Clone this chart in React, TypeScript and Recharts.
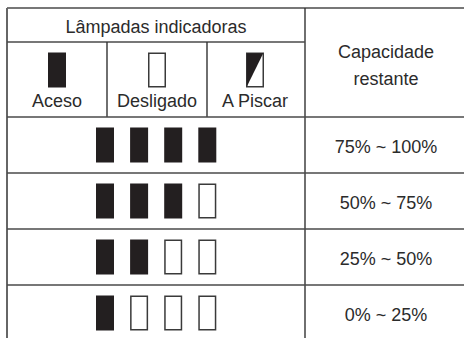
import React from 'react'
import { ScatterChart, Scatter, XAxis, YAxis, ReferenceLine } from 'recharts'

// table texts
const TITLE = 'Lâmpadas indicadoras'
const LAMP_STATES = ['Aceso', 'Desligado', 'A Piscar']
const STATE_KINDS = ['on', 'off', 'blink']
const CAPACITY_HEADER = ['Capacidade', 'restante']
const CAPACITY_RANGES = ['75% ~ 100%', '50% ~ 75%', '25% ~ 50%', '0% ~ 25%']
// lamps lit for each capacity range
const LIT_LAMPS = [4, 3, 2, 1]
const LAMPS_PER_ROW = 4

const W = 465
const H = 338
const MARGIN = { top: 8, right: 1, bottom: 0, left: 7 }

// layout in picture pixels -> chart units (x: lamp slots, y: table rows)
const SLOT = 34.1
const LAMP0 = 105
const ROW = 56
const ROW0 = 117
const ux = (px: number) => (px - LAMP0) / SLOT
const uy = (px: number) => (px - ROW0) / ROW

const X_DOMAIN = [ux(MARGIN.left), ux(W - MARGIN.right)]
const Y_DOMAIN = [uy(MARGIN.top), uy(H - MARGIN.bottom)]

const INK = '#231f20'
const TEXT = '#2b2b2b'
const LINE = '#4a4a4a'
const LAMP_W = 18
const LAMP_H = 35

const STATE_COL_X = [57, 157, 255].map(ux)
const CAP_X = ux(386)

const lampPoints = CAPACITY_RANGES.flatMap((_, row) =>
  Array.from({ length: LAMPS_PER_ROW }, (_, i) => ({
    x: i,
    y: row + 0.5,
    kind: i < LIT_LAMPS[row] ? 'on' : 'off',
  }))
)

const iconPoints = LAMP_STATES.map((_, i) => ({ x: STATE_COL_X[i], y: uy(70), kind: STATE_KINDS[i] }))

const textPoints = [
  { x: ux(156), y: uy(25), dy: 8, text: TITLE },
  ...LAMP_STATES.map((s, i) => ({ x: STATE_COL_X[i], y: uy(106.5), dy: 0, text: s })),
  { x: CAP_X, y: uy(58.3), dy: 0, text: CAPACITY_HEADER[0] },
  { x: CAP_X, y: uy(85), dy: 0, text: CAPACITY_HEADER[1] },
  ...CAPACITY_RANGES.map((t, row) => ({ x: CAP_X, y: row + 0.5, dy: 7.5, text: t })),
]

const Lamp = (props: any) => {
  const { cx = 0, cy = 0, payload } = props
  const x = cx - LAMP_W / 2
  const y = cy - LAMP_H / 2
  if (payload?.kind === 'on') return <rect x={x} y={y} width={LAMP_W} height={LAMP_H} fill={INK} />
  const outline = (
    <rect x={x + 0.75} y={y + 0.75} width={LAMP_W - 1.5} height={LAMP_H - 1.5} fill="#fff" stroke="#3a3a3a" strokeWidth={1.5} />
  )
  if (payload?.kind === 'off') return outline
  return (
    <g>
      {outline}
      <polygon
        points={`${x + 0.75},${y + 0.75} ${x + LAMP_W - 0.75},${y + 0.75} ${x + 0.75},${y + LAMP_H - 0.75}`}
        fill={INK}
      />
    </g>
  )
}

const Label = (props: any) => {
  const { cx = 0, cy = 0, payload } = props
  return (
    <text
      x={cx}
      y={cy}
      dy={payload?.dy ?? 0}
      textAnchor="middle"
      fontFamily="'Liberation Sans', Arial, sans-serif"
      fontSize={18}
      fill={TEXT}
    >
      {payload?.text}
    </text>
  )
}

export default function App() {
  const titleLineY = uy(42)
  const capDividerX = ux(305)
  return (
    <div style={{ position: 'fixed', left: 0, top: 0, width: W, height: H, background: '#fff', overflow: 'hidden' }}>
      <ScatterChart width={W} height={H} margin={MARGIN}>
        <XAxis type="number" dataKey="x" domain={X_DOMAIN} allowDataOverflow hide />
        <YAxis type="number" dataKey="y" domain={Y_DOMAIN} allowDataOverflow reversed hide />

        {/* frame */}
        <ReferenceLine y={Y_DOMAIN[0]} stroke={LINE} strokeWidth={1.6} />
        <ReferenceLine x={X_DOMAIN[0]} stroke="#666" strokeWidth={2} />
        <ReferenceLine x={capDividerX} stroke="#333" strokeWidth={1.4} />
        <ReferenceLine
          segment={[{ x: X_DOMAIN[0], y: titleLineY }, { x: capDividerX, y: titleLineY }]}
          stroke={LINE}
          strokeWidth={1.6}
        />
        {[107, 207].map(px => (
          <ReferenceLine
            key={px}
            segment={[{ x: ux(px), y: titleLineY }, { x: ux(px), y: 0 }]}
            stroke="#333"
            strokeWidth={1.4}
          />
        ))}
        {CAPACITY_RANGES.map((_, row) => (
          <ReferenceLine key={row} y={row} stroke={LINE} strokeWidth={1.6} />
        ))}

        <Scatter data={lampPoints} shape={<Lamp />} isAnimationActive={false} />
        <Scatter data={iconPoints} shape={<Lamp />} isAnimationActive={false} />
        <Scatter data={textPoints} shape={<Label />} isAnimationActive={false} />
      </ScatterChart>
    </div>
  )
}
